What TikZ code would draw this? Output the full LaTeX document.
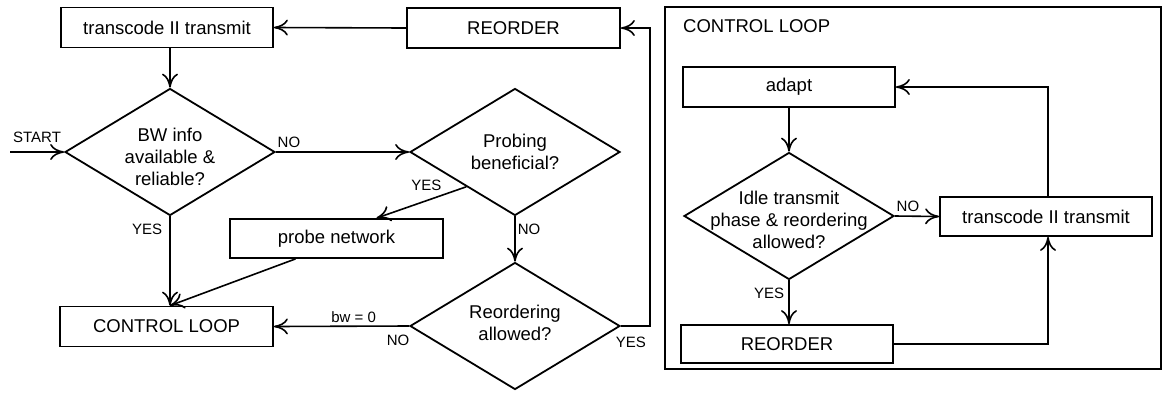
\documentclass[tikz,border=0pt]{standalone}
\usepackage{fontspec}
\setmainfont{Liberation Sans}
\usetikzlibrary{arrows.meta,shapes.geometric,calc}
\begin{document}
\begin{tikzpicture}[x=1pt,y=-1pt,
  mainfont/.style={font=\fontsize{18.5}{22}\selectfont},
  box/.style={draw,line width=1.8pt,minimum height=40pt,inner sep=0pt,mainfont},
  dia/.style={draw,diamond,line width=1.8pt,minimum width=210pt,minimum height=127pt,inner sep=0pt},
  dtext/.style={align=center,inner sep=0pt,mainfont},
  lbl/.style={font=\fontsize{15}{17}\selectfont,inner sep=0pt},
  flow/.style={line width=1.6pt,-{Computer Modern Rightarrow[length=14pt,width=16pt]}},
  wire/.style={line width=1.6pt}]
\useasboundingbox (0,0) rectangle (1163,392);

% ---- main decision flow ----
\node[box,minimum width=212pt] (tc1) at (167,27.5) {transcode II transmit};
\node[box,minimum width=213pt] (reo1) at (513.5,28) {REORDER};
\node[dia] (d1) at (170,152) {};
\node[dtext] (t1) at (170,157) {BW info\\available \&\\reliable?};
\node[dia] (d2) at (515,152) {};
\node[dtext] (t2) at (515,152) {Probing\\beneficial?};
\node[box,minimum width=213pt,minimum height=39pt] (pn) at (336.5,238.5) {probe network};
\node[dia] (d3) at (515,326) {};
\node[dtext] (t3) at (515,323) {Reordering\\allowed?};
\node[box,minimum width=213pt] (cl) at (166.5,326.5) {CONTROL LOOP};
\coordinate (start) at (10,152);

\draw[flow] (reo1.west) -- (tc1.east);
\draw[flow] (d1.north |- tc1.south) -- (d1.north);
\draw[flow] (start) -- (d1.west) node[lbl,midway,above=9pt]{START};
\draw[flow] (d1.east) node[lbl,anchor=south west,xshift=1pt,yshift=4pt]{NO} -- (d2.west);
\draw[flow] ($(d2.west)!0.54!(d2.south)$) node[lbl,anchor=east,xshift=-24pt,yshift=1pt]{YES}
  -- ([xshift=40pt]pn.north);
\draw[flow] (d2.south) node[lbl,anchor=north west,xshift=2pt,yshift=-7pt]{NO} -- (d3.north);
\draw[flow] (d3.east) node[lbl,anchor=north,xshift=10pt,yshift=-10pt]{YES}
  -- ++(29,0) |- (reo1.east);
\draw[flow] (d3.west) node[lbl,anchor=north,xshift=-11pt,yshift=-8.5pt]{NO}
  -- (cl.east) node[lbl,above=3pt,pos=0.41]{bw = 0};
\draw[flow] (d1.south) node[lbl,anchor=north east,xshift=-7pt,yshift=-6.5pt]{YES}
  -- (d1.south |- cl.north);
\draw[flow] ([xshift=-41pt]pn.south) -- (d1.south |- cl.north);

% ---- control loop panel ----
\node[draw,line width=1.8pt,minimum width=496pt,minimum height=362pt,inner sep=0pt] (frame) at (913,188) {};
\node[mainfont,anchor=west,inner sep=0pt] (title) at (683,26) {CONTROL LOOP};
\node[box,minimum width=212pt] (ad) at (789,87) {adapt};
\node[dia] (d4) at (789,216) {};
\node[dtext] (t4) at (789,220) {Idle transmit\\phase \& reordering\\allowed?};
\node[box,minimum width=212pt,minimum height=39pt] (tc2) at (1046,216.5) {transcode II transmit};
\node[box,minimum width=212pt,minimum height=38pt] (r2) at (787,344) {REORDER};

\draw[flow] (d4.north |- ad.south) -- (d4.north);
\draw[flow] (d4.east) node[lbl,anchor=south west,xshift=1pt,yshift=4pt]{NO} -- (tc2.west);
\draw[flow] ([xshift=2pt]tc2.north) |- (ad.east);
\draw[flow] (d4.south) node[lbl,anchor=north east,xshift=-4pt,yshift=-6.5pt]{YES}
  -- (d4.south |- r2.north);
\draw[flow] (r2.east) -| ([xshift=2pt]tc2.south);
\end{tikzpicture}
\end{document}
